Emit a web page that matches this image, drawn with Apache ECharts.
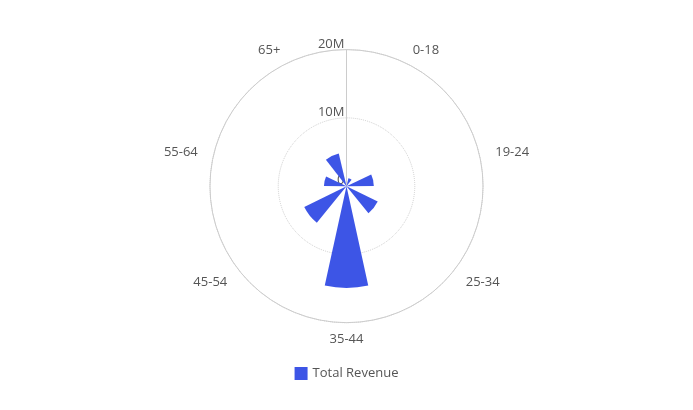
<!DOCTYPE html>
<html>
<head>
<meta charset="utf-8">
<script src="https://cdn.jsdelivr.net/npm/echarts@6/dist/echarts.min.js"></script>
<style>html,body{margin:0;padding:0;background:#fff}#c{width:693px;height:410px}</style>
</head>
<body>
<div id="c"></div>
<script>
var categories = ['0-18', '19-24', '25-34', '35-44', '45-54', '55-64', '65+'];
var revenue = [1200000, 4000000, 5100000, 14900000, 6900000, 3300000, 4900000];
var seriesName = 'Total Revenue';

var chart = echarts.init(document.getElementById('c'));
chart.setOption({
  animation: false,
  textStyle: { fontFamily: 'Open Sans' },
  legend: {
    bottom: 25,
    left: 'center',
    icon: 'rect',
    itemWidth: 13,
    itemHeight: 13,
    itemGap: 10,
    textStyle: { color: '#555', fontSize: 13, fontFamily: 'Open Sans' },
    data: [seriesName]
  },
  polar: { center: ['50%', '45.4%'], radius: '66.6%' },
  angleAxis: {
    type: 'category',
    data: categories,
    startAngle: 90,
    clockwise: true,
    axisLine: { lineStyle: { color: '#ccc' } },
    axisTick: { show: false },
    splitLine: { show: false },
    axisLabel: { color: '#555', fontSize: 13, margin: 16, lineHeight: 2, padding: [0, 0, -3, 0], fontFamily: 'Open Sans' }
  },
  radiusAxis: {
    type: 'value',
    min: 0,
    max: 20000000,
    interval: 10000000,
    axisLine: { show: true, lineStyle: { color: '#ccc' } },
    axisTick: { show: false },
    splitLine: { show: true, lineStyle: { color: '#ccc', type: 'dotted' } },
    axisLabel: {
      color: '#555', fontSize: 13, fontFamily: 'Open Sans',
      margin: 2, align: 'right', verticalAlign: 'bottom', padding: [0, 0, -1, 0],
      formatter: function (v) { return v === 0 ? '0' : (v / 1000000) + 'M'; }
    }
  },
  series: [{
    name: seriesName,
    type: 'bar',
    coordinateSystem: 'polar',
    data: revenue,
    barCategoryGap: '52%',
    itemStyle: { color: '#3d55e6' }
  }]
});
</script>
</body>
</html>
